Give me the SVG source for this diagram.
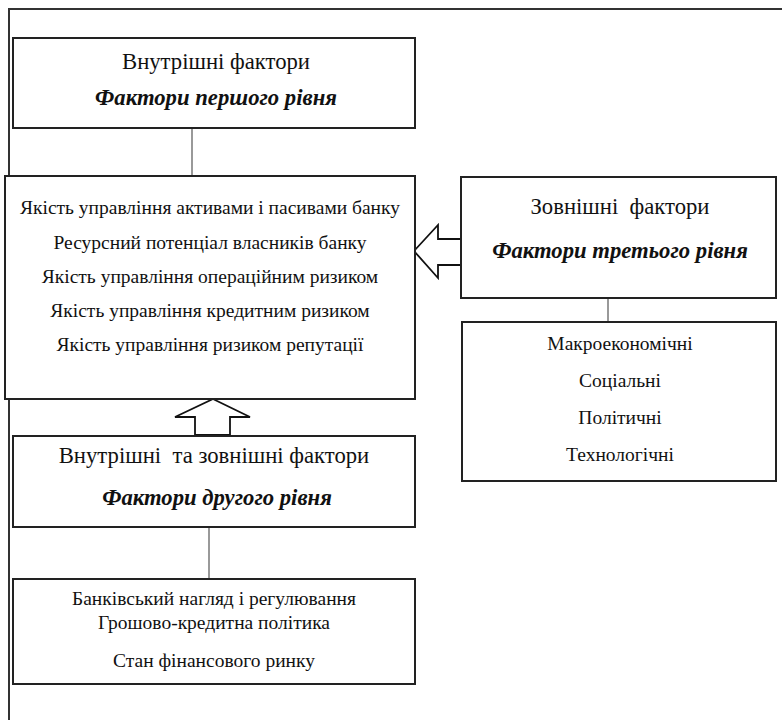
<svg xmlns="http://www.w3.org/2000/svg" width="782" height="721" viewBox="0 0 782 721">
<style>
  text { font-family: "Liberation Serif", "Times New Roman", serif; fill: #111; text-anchor: middle; }
  .box { fill: #fff; stroke: #222; stroke-width: 2; }
  .frame { fill: none; stroke: #333; stroke-width: 2; }
  .conn { fill: none; stroke: #555; stroke-width: 1.2; }
  .arrow { fill: #fff; stroke: #111; stroke-width: 1.8; stroke-linejoin: miter; }
  .h { font-size: 22.7px; }
  .hb { font-size: 22.7px; font-weight: bold; font-style: italic; }
  .m { font-size: 19.5px; }
</style>
<rect width="782" height="721" fill="#fff"/>
<path class="frame" d="M9,720 V9 H782"/>
<g id="connectors">
  <line class="conn" x1="192" y1="129" x2="192" y2="176"/>
  <line class="conn" x1="608" y1="298" x2="608" y2="322"/>
  <line class="conn" x1="209" y1="527" x2="209" y2="579"/>
  <polygon class="arrow" points="414,251 438,225 438,239 461,239 461,265 438,265 438,278"/>
  <polygon class="arrow" points="213,399 250,417 230,417 230,435 195,435 195,417 175,417"/>
</g>
<g id="node-level1">
  <rect class="box" x="13" y="38" width="402" height="90"/>
  <text class="h" x="216" y="69">Внутрішні фактори</text>
  <text class="hb" x="216" y="105">Фактори першого рівня</text>
</g>
<g id="node-internal-list">
  <rect class="box" x="5" y="176" width="410" height="223"/>
  <text class="m" x="210" y="214">Якість управління активами і пасивами банку</text>
  <text class="m" x="210" y="249">Ресурсний потенціал власників банку</text>
  <text class="m" x="210" y="283">Якість управління операційним ризиком</text>
  <text class="m" x="210" y="317">Якість управління кредитним ризиком</text>
  <text class="m" x="210" y="351">Якість управління ризиком репутації</text>
</g>
<g id="node-level3">
  <rect class="box" x="461" y="177" width="315" height="121"/>
  <text class="h" x="620" y="214" xml:space="preserve">Зовнішні  фактори</text>
  <text class="hb" x="620" y="258">Фактори третього рівня</text>
</g>
<g id="node-external-list">
  <rect class="box" x="462" y="322" width="314" height="159"/>
  <text class="m" x="620" y="350">Макроекономічні</text>
  <text class="m" x="620" y="387">Соціальні</text>
  <text class="m" x="620" y="424">Політичні</text>
  <text class="m" x="620" y="461">Технологічні</text>
</g>
<g id="node-level2">
  <rect class="box" x="13" y="436" width="402" height="91"/>
  <text class="h" x="214" y="463" xml:space="preserve">Внутрішні  та зовнішні фактори</text>
  <text class="hb" x="217" y="505">Фактори другого рівня</text>
</g>
<g id="node-level2-list">
  <rect class="box" x="13" y="579" width="402" height="105"/>
  <text class="m" x="214" y="605">Банківський нагляд і регулювання</text>
  <text class="m" x="214" y="629">Грошово-кредитна політика</text>
  <text class="m" x="214" y="667">Стан фінансового ринку</text>
</g>
</svg>
